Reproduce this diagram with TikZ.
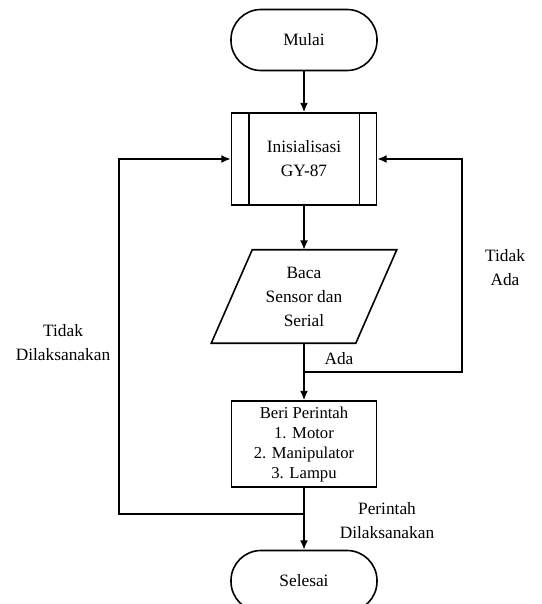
\documentclass[tikz,border=0pt]{standalone}
\usepackage{fontspec}
\setmainfont{Liberation Serif}
\usepackage{tikz}
\usetikzlibrary{arrows.meta}

\tikzset{
  terminal/.style={draw, line width=1.2pt, rounded corners=22.5pt, minimum width=109.5pt, minimum height=45.75pt, inner sep=0pt},
  prosesbox/.style={draw, line width=1.2pt, minimum width=108.75pt, minimum height=69pt, inner sep=0pt},
  perintahbox/.style={draw, line width=1.2pt, minimum width=108.75pt, minimum height=64.5pt, inner sep=0pt},
  iobox/.style={minimum width=138.75pt, minimum height=69.75pt, inner sep=0pt},
  alur/.style={line width=1.2pt, -{Latex[length=7pt,width=6pt]}},
  garis/.style={line width=1.2pt},
  teks/.style={font=\fontsize{13}{18}\selectfont, align=center}
}

\begin{document}
\begin{tikzpicture}[x=0.75pt,y=0.75pt,yscale=-1]
\useasboundingbox (0,0) rectangle (542,604);

%Shape: Terminal [id:mulai]
\node (mulai) [terminal, teks] at (304,40) {Mulai};
%Shape: Predefined Process [id:init]
\node (init) [prosesbox, teks] at (304,159) {Inisialisasi\\GY-87};
\draw [garis] ([xshift=13.5pt]init.north west) -- ([xshift=13.5pt]init.south west) ;
\draw [garis] ([xshift=-13.5pt]init.north east) -- ([xshift=-13.5pt]init.south east) ;
%Shape: Parallelogram [id:baca]
\node (baca) [iobox, teks] at (304,296.5) {Baca\\Sensor dan\\Serial};
\draw [garis] ([xshift=30.75pt]baca.north west) -- (baca.north east) -- ([xshift=-30.75pt]baca.south east) -- (baca.south west) -- cycle ;
%Shape: Rectangle [id:beri]
\node (beri) [perintahbox, teks, font=\fontsize{12.5}{15}\selectfont] at (304,444) {Beri Perintah\\1. Motor\\2. Manipulator\\3. Lampu};
%Shape: Terminal [id:selesai]
\node (selesai) [terminal, teks] at (304,581) {Selesai};

%Junctions
\coordinate (ada) at (304,372) ;
\coordinate (kanan) at (462,372) ;
\coordinate (jalan) at (304,514) ;
\coordinate (kiri) at (119,514) ;

%Straight Lines
\draw [alur] (mulai) -- (init) ;
\draw [alur] (init) -- (baca.north) ;
\draw [alur] (baca.south) -- (beri) ;
\draw [alur] (beri) -- (selesai) ;
\draw [alur] (ada) -- (kanan) |- (init.east) ;
\draw [alur] (jalan) -- (kiri) |- (init.west) ;

%Labels
\node (lbltidakada) [teks] at (505,268) {Tidak\\Ada};
\node (lblada) [teks] at (339,359) {Ada};
\node (lbltidak) [teks] at (63,343) {Tidak\\Dilaksanakan};
\node (lblperintah) [teks] at (387,521) {Perintah\\Dilaksanakan};

\end{tikzpicture}
\end{document}
